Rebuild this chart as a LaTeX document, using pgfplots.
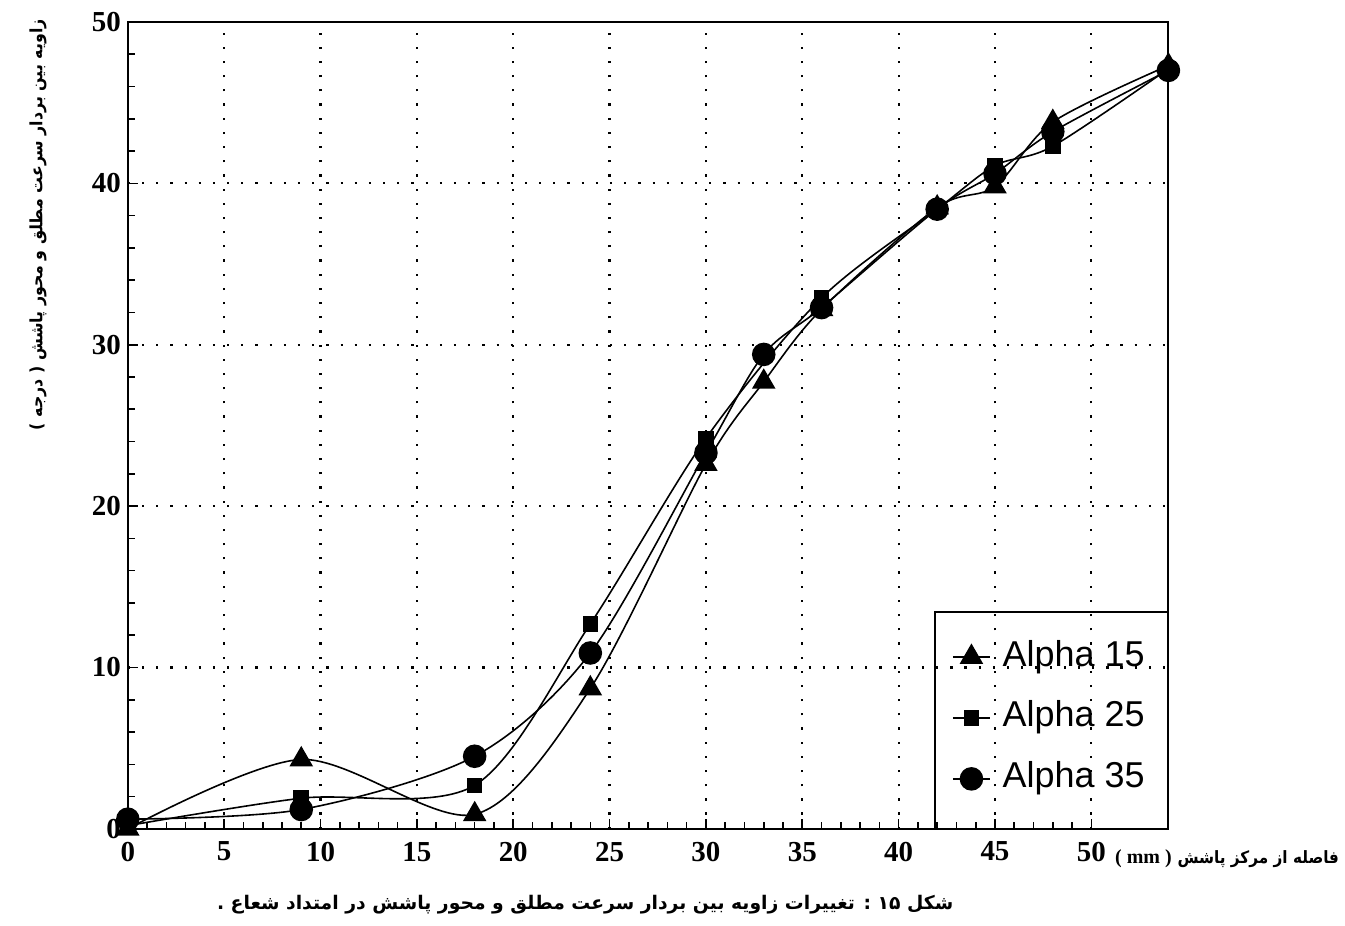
\documentclass[border=0pt]{standalone}
\usepackage{fontspec}
\setmainfont{Liberation Serif}
\newfontfamily\legendfont{Liberation Sans}
\newfontfamily\fa[Script=Arabic]{DejaVu Sans}
\TeXXeTstate=1
\usepackage{pgfplots}
\pgfplotsset{compat=1.18}
\begin{document}
\begin{tikzpicture}
\begin{axis}[
  at={(0pt,0pt)}, anchor=south west,
  scale only axis, width=521pt, height=404pt,
  xmin=0, xmax=54, ymin=0, ymax=50,
  xtick={0,5,...,50}, ytick={0,10,...,50},
  minor xtick={1,...,49}, minor ytick={2,4,...,48},
  tick pos=left, tick align=inside,
  major tick length=5pt, minor tick length=3.5pt,
  every tick/.style={black, line width=0.8pt},
  axis line style={line width=1pt},
  grid=major,
  major grid style={black, line width=1.1pt, dash pattern=on 1.1pt off 6pt},
  ticklabel style={font=\fontsize{14.5}{16}\selectfont\bfseries},
  /pgf/number format/assume math mode=true,
  xticklabel style={yshift=-3pt},
  clip=false,
  legend style={at={(0.7918,0.2345)}, anchor=north west, draw=none, fill=none,
    inner sep=0pt, row sep=13.5pt, column sep=6pt,
    nodes={inner sep=0pt, text height=13pt, text depth=4pt},
    font=\fontsize{18}{20}\selectfont\legendfont},
  legend cell align=left,
  legend image code/.code={\draw[mark repeat=2,mark phase=2,#1] plot coordinates {(0pt,0pt) (9.25pt,0pt) (18.5pt,0pt)};},
]
\addplot[black, line width=0.8pt, smooth, mark=triangle*, mark size=6pt, mark options={solid}]
  coordinates {(0,0) (9,4.3) (18,0.9) (24,8.7) (30,22.6) (33,27.7) (36,32.2) (42,38.5) (45,39.8) (48,43.8) (54,47.3)};
\addlegendentry{Alpha 15}
\addplot[black, line width=0.8pt, smooth, mark=square*, mark size=3.5pt, mark options={solid}]
  coordinates {(0,0.2) (9,1.9) (18,2.7) (24,12.7) (30,24.2) (36,32.9) (42,38.4) (45,41.1) (48,42.3) (54,47.1)};
\addlegendentry{Alpha 25}
\addplot[black, line width=0.8pt, smooth, mark=*, mark size=5.5pt, mark options={solid}]
  coordinates {(0,0.6) (9,1.2) (18,4.5) (24,10.9) (30,23.3) (33,29.4) (36,32.3) (42,38.4) (45,40.6) (48,43.2) (54,47.0)};
\addlegendentry{Alpha 35}
\end{axis}
\draw[line width=1pt] (404pt,0pt) rectangle (521pt,108.5pt);
\node[rotate=90, xscale=0.93, font=\fa\bfseries\fontsize{8.5}{10}\selectfont] at (-45pt,302.5pt) {\beginR زاویه بین بردار سرعت مطلق و محور پاشش ( درجه )\endR};
\node[font=\fontsize{10}{12}\selectfont\bfseries] at (508.5pt,-15pt) {( mm )};
\node[xscale=0.9, font=\fa\bfseries\fontsize{8.5}{10}\selectfont] at (566pt,-15pt) {\beginR فاصله از مرکز پاشش\endR};
\node[font=\fa\bfseries\fontsize{9.4}{11}\selectfont] at (229pt,-38pt) {\beginR شکل ۱۵ : تغییرات زاویه بین بردار سرعت مطلق و محور پاشش در امتداد شعاع .\endR};
\path (-64pt,-48.5pt) rectangle (608.5pt,415pt);
\end{tikzpicture}
\end{document}
